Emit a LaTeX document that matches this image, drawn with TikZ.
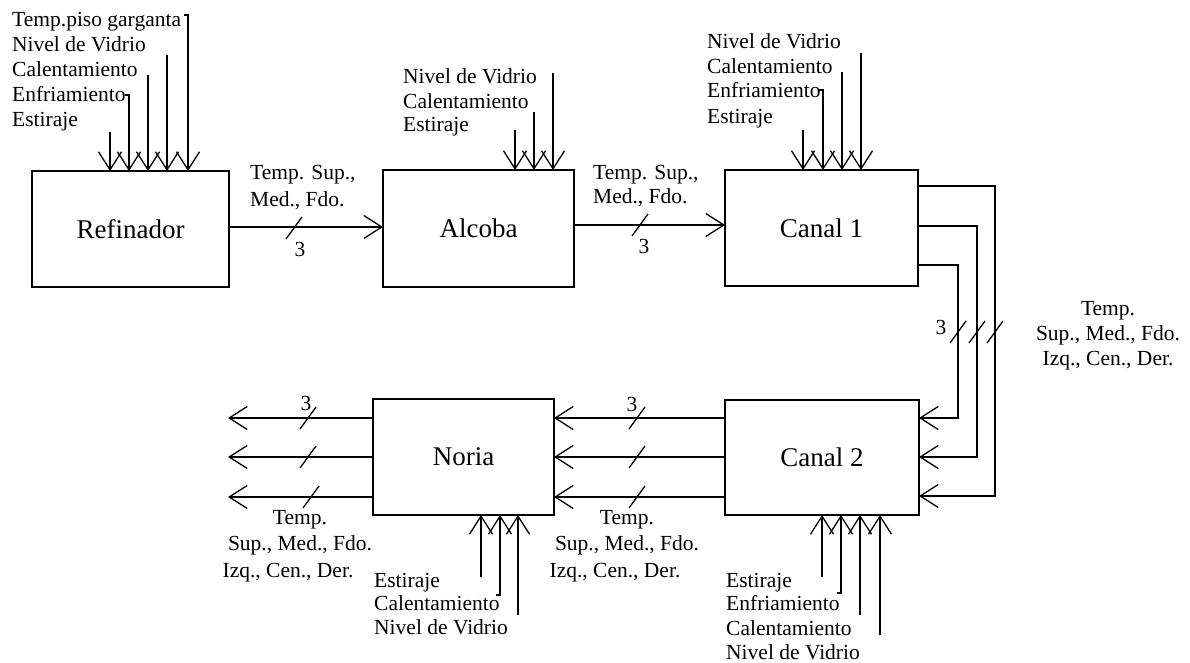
\documentclass[tikz,border=0pt]{standalone}
\usepackage{fontspec}
\setmainfont{Liberation Serif}
\usetikzlibrary{arrows.meta,calc}
\tikzset{
  box/.style={draw, line width=1.4pt, inner sep=0pt, outer sep=0pt, anchor=north west, font=\fontsize{27}{30}\selectfont},
  lab/.style={anchor=west, inner sep=0pt, font=\fontsize{21.5}{25}\selectfont, text height=15pt, text depth=1pt},
  clab/.style={lab, anchor=center},
  arr/.style={line width=1.3pt, -{Straight Barb[length=18pt,width=23pt]}},
  ln/.style={line width=1.3pt},
}
\begin{document}
\begin{tikzpicture}[x=1pt,y=-1pt]
\useasboundingbox (0,0) rectangle (1190,663);
% boxes
\node[box, minimum width=197pt, minimum height=116pt] (ref) at (32,171) {Refinador};
\node[box, minimum width=191pt, minimum height=117pt] (alc) at (383,170) {Alcoba};
\node[box, minimum width=193pt, minimum height=116pt] (c1) at (725,170) {Canal 1};
\node[box, minimum width=181pt, minimum height=116pt] (nor) at (373,399) {Noria};
\node[box, minimum width=194pt, minimum height=115pt] (c2) at (725,400) {Canal 2};

% Refinador inputs
\node[lab] (rl1) at (12,20) {Temp.piso garganta};
\node[lab] (rl2) at (12,45) {Nivel de Vidrio};
\node[lab] (rl3) at (12,70) {Calentamiento};
\node[lab] (rl4) at (12,95) {Enfriamiento};
\node[lab] (rl5) at (12,120) {Estiraje};
\coordinate (rA) at (110,132);
\coordinate (rB) at (129,95);
\coordinate (rC) at (148,75);
\coordinate (rD) at (167,55);
\coordinate (rE) at (188,15);
\draw[arr] (rA) -- (rA |- ref.north);
\draw[arr] ([xshift=-4pt]rB) -- (rB) -- (rB |- ref.north);
\draw[arr] (rC) -- (rC |- ref.north);
\draw[arr] (rD) -- (rD |- ref.north);
\draw[arr] ([xshift=-4pt]rE) -- (rE) -- (rE |- ref.north);

% Alcoba inputs
\node[lab] (al1) at (403,77) {Nivel de Vidrio};
\node[lab] (al2) at (403,102) {Calentamiento};
\node[lab] (al3) at (403,125) {Estiraje};
\coordinate (aA) at (515,130);
\coordinate (aB) at (534,112);
\coordinate (aC) at (553,73);
\draw[arr] (aA) -- (aA |- alc.north);
\draw[arr] (aB) -- (aB |- alc.north);
\draw[arr] (aC) -- (aC |- alc.north);

% Canal 1 inputs
\node[lab] (cl1) at (707,42) {Nivel de Vidrio};
\node[lab] (cl2) at (707,67) {Calentamiento};
\node[lab] (cl3) at (707,91) {Enfriamiento};
\node[lab] (cl4) at (707,117) {Estiraje};
\coordinate (cA) at (803,130);
\coordinate (cB) at (823,90);
\coordinate (cC) at (842,72);
\coordinate (cD) at (861,53);
\draw[arr] (cA) -- (cA |- c1.north);
\draw[arr] ([xshift=-4pt]cB) -- (cB) -- (cB |- c1.north);
\draw[arr] (cC) -- (cC |- c1.north);
\draw[arr] (cD) -- (cD |- c1.north);

% Refinador -> Alcoba
\coordinate (h1) at (0,227);
\draw[arr] (ref.east |- h1) -- (alc.west |- h1);
\draw[ln] (286,239) -- (302,217);
\node[lab, anchor=center] (n3a) at (300,249) {3};
\node[lab] (t1a) at (250,172) {Temp. Sup.,};
\node[lab] (t1b) at (250,199) {Med., Fdo.};

% Alcoba -> Canal 1
\coordinate (h2) at (0,225);
\draw[arr] (alc.east |- h2) -- (c1.west |- h2);
\draw[ln] (632,236) -- (648,214);
\node[lab, anchor=center] (n3b) at (644,246) {3};
\node[lab] (t2a) at (593,172) {Temp. Sup.,};
\node[lab] (t2b) at (593,197) {Med., Fdo.};

% Canal 1 -> Canal 2 feedback
\coordinate (o1) at (0,186);
\coordinate (o2) at (0,226);
\coordinate (o3) at (0,265);
\coordinate (v1) at (958,418);
\coordinate (v2) at (977,457);
\coordinate (v3) at (995,496);
\draw[arr] (c1.east |- o3) -| (v1) -- (c2.east |- v1);
\draw[arr] (c1.east |- o2) -| (v2) -- (c2.east |- v2);
\draw[arr] (c1.east |- o1) -| (v3) -- (c2.east |- v3);
\draw[ln] (950,343) -- (966,321);
\draw[ln] (969,343) -- (985,321);
\draw[ln] (987,343) -- (1003,321);
\node[lab, anchor=center] (n3c) at (941,327) {3};
\node[clab] (fb1) at (1108,308) {Temp.};
\node[clab] (fb2) at (1108,333) {Sup., Med., Fdo.};
\node[clab] (fb3) at (1108,358) {Izq., Cen., Der.};

% Canal 2 -> Noria
\coordinate (m1) at (0,418);
\coordinate (m2) at (0,457);
\coordinate (m3) at (0,497);
\draw[arr] (c2.west |- m1) -- (nor.east |- m1);
\draw[arr] (c2.west |- m2) -- (nor.east |- m2);
\draw[arr] (c2.west |- m3) -- (nor.east |- m3);
\draw[ln] (629,429) -- (645,407);
\draw[ln] (629,468) -- (645,446);
\draw[ln] (629,508) -- (645,486);
\node[lab, anchor=center] (n3d) at (632,404) {3};
\node[clab] (cm1) at (627,517) {Temp.};
\node[clab] (cm2) at (627,543) {Sup., Med., Fdo.};
\node[clab] (cm3) at (615,570) {Izq., Cen., Der.};

% Noria outputs
\coordinate (p1) at (228,418);
\coordinate (p2) at (228,457);
\coordinate (p3) at (228,497);
\draw[arr] (nor.west |- p1) -- (p1);
\draw[arr] (nor.west |- p2) -- (p2);
\draw[arr] (nor.west |- p3) -- (p3);
\draw[ln] (300,429) -- (316,407);
\draw[ln] (300,468) -- (316,446);
\draw[ln] (303,508) -- (319,486);
\node[lab, anchor=center] (n3e) at (306,403) {3};
\node[clab] (no1) at (300,517) {Temp.};
\node[clab] (no2) at (300,543) {Sup., Med., Fdo.};
\node[clab] (no3) at (288,570) {Izq., Cen., Der.};

% Noria inputs (bottom)
\node[lab] (nl1) at (374,580) {Estiraje};
\node[lab] (nl2) at (374,603) {Calentamiento};
\node[lab] (nl3) at (374,627) {Nivel de Vidrio};
\coordinate (nA) at (481,577);
\coordinate (nB) at (500,595);
\coordinate (nC) at (518,615);
\draw[arr] (nA) -- (nA |- nor.south);
\draw[arr] ([xshift=-4pt]nB) -- (nB) -- (nB |- nor.south);
\draw[arr] (nC) -- (nC |- nor.south);

% Canal 2 inputs (bottom)
\node[lab] (ql1) at (726,580) {Estiraje};
\node[lab] (ql2) at (726,603) {Enfriamiento};
\node[lab] (ql3) at (726,628) {Calentamiento};
\node[lab] (ql4) at (726,652) {Nivel de Vidrio};
\coordinate (qA) at (822,577);
\coordinate (qB) at (841,593);
\coordinate (qC) at (860,615);
\coordinate (qD) at (880,635);
\draw[arr] (qA) -- (qA |- c2.south);
\draw[arr] ([xshift=-4pt]qB) -- (qB) -- (qB |- c2.south);
\draw[arr] (qC) -- (qC |- c2.south);
\draw[arr] (qD) -- (qD |- c2.south);
\end{tikzpicture}
\end{document}
